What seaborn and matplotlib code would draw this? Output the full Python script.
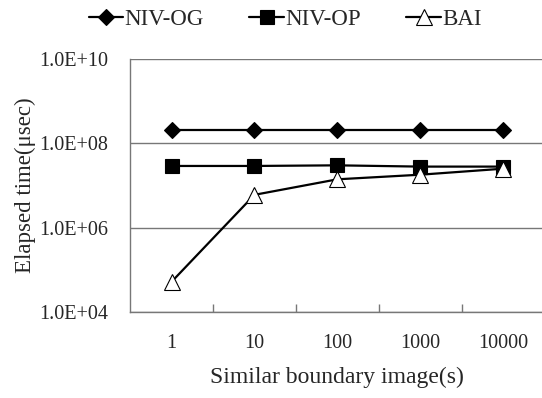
import matplotlib
matplotlib.use("Agg")
import matplotlib.pyplot as plt
import seaborn as sns
import pandas as pd
import numpy as np
from matplotlib.ticker import FixedLocator

categories = ["1", "10", "100", "1000", "10000"]
niv_og = [2.1e8, 2.1e8, 2.1e8, 2.1e8, 2.1e8]
niv_op = [2.9e7, 2.9e7, 3.0e7, 2.8e7, 2.8e7]
bai = [5.2e4, 6.0e6, 1.4e7, 1.8e7, 2.5e7]
y_ticks = [1e4, 1e6, 1e8, 1e10]
y_labels = ["1.0E+04", "1.0E+06", "1.0E+08", "1.0E+10"]

sns.set_style("white")
plt.rcParams['font.family'] = ['Liberation Serif', 'DejaVu Serif']

fig = plt.figure(figsize=(5.42, 3.98), dpi=100)
ax = fig.add_axes([0.24, 0.216, 0.765, 0.636])

pos = np.arange(len(categories))
df = pd.DataFrame({"x": np.tile(pos, 3),
                   "y": niv_og + niv_op + bai,
                   "s": ["NIV-OG"] * 5 + ["NIV-OP"] * 5 + ["BAI"] * 5})

styles = {"NIV-OG": dict(marker="D", markersize=8, markerfacecolor="black"),
          "NIV-OP": dict(marker="s", markersize=10, markerfacecolor="black"),
          "BAI": dict(marker="^", markersize=11, markerfacecolor="white")}
for name in ["NIV-OG", "NIV-OP", "BAI"]:
    sub = df[df.s == name]
    sns.lineplot(data=sub, x="x", y="y", ax=ax, color="black", linewidth=1.6,
                 markeredgecolor="black", markeredgewidth=0.8, label=name,
                 **styles[name])

ax.set_yscale("log")
ax.set_ylim(1e4, 1e10)
ax.set_xlim(-0.5, 4.5)
ax.yaxis.set_major_locator(FixedLocator(y_ticks))
ax.set_yticklabels(y_labels, fontsize=14.5)
ax.yaxis.set_minor_locator(FixedLocator([]))
ax.tick_params(axis="y", length=0, pad=16)
ax.set_xticks(pos)
ax.set_xticklabels(categories, fontsize=14.5)
ax.xaxis.set_minor_locator(FixedLocator([0.5, 1.5, 2.5, 3.5]))
ax.tick_params(axis="x", which="major", length=0, pad=16)
ax.tick_params(axis="x", which="minor", length=6, direction="in", color="#777777", width=1, bottom=True)
ax.grid(axis="y", which="major", color="#777777", linewidth=1)
ax.spines["right"].set_visible(False)
ax.spines["top"].set_visible(False)
for s in ["left", "bottom"]:
    ax.spines[s].set_color("#777777")
    ax.spines[s].set_linewidth(1)

ax.set_xlabel("Similar boundary image(s)", fontsize=17, labelpad=10)
ax.set_ylabel("Elapsed time(μsec)", fontsize=16.5, labelpad=2)

leg = ax.legend(loc="upper center", bbox_to_anchor=(0.374, 1.278), ncol=3, frameon=False,
                fontsize=16.5, handlelength=1.5, handletextpad=0.05, columnspacing=2.0)

fig.savefig("out.png", dpi=100)
